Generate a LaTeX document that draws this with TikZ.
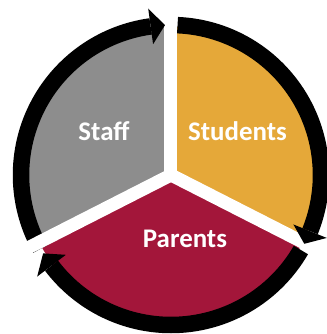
\documentclass[tikz,border=0pt]{standalone}
\usepackage{fontspec}
\setmainfont{Carlito}
\definecolor{staffgray}{RGB}{141,141,141}
\definecolor{studentgold}{RGB}{229,168,57}
\definecolor{parentred}{RGB}{163,22,58}
\begin{document}
\begin{tikzpicture}[x=1bp,y=1bp,
  gapline/.style={draw=white,line width=13bp},
  ring/.style={draw=black,line width=16.5bp},
  head/.style={fill=black},
  label/.style={text=white,font=\bfseries\fontsize{27}{31}\selectfont,inner sep=0pt,anchor=base}]
\useasboundingbox (-171,-159) rectangle (156,175);
\coordinate (c) at (0,0);
% three sectors
\fill[staffgray]   (c) -- (90:148)  arc[start angle=90,  end angle=207, radius=148] -- cycle;
\fill[parentred]   (c) -- (207:148) arc[start angle=207, end angle=333, radius=148] -- cycle;
\fill[studentgold] (c) -- (333:148) arc[start angle=333, end angle=450, radius=148] -- cycle;
% circular arrows, shafts
\draw[ring] (209.5:150) arc[start angle=209.5, end angle=97.8,  radius=150];
\draw[ring] (87.5:150)  arc[start angle=87.5,  end angle=-22,   radius=150];
\draw[ring] (-30:150)   arc[start angle=-30,   end angle=-142.8, radius=150];
% white separators
\draw[gapline] (c) -- (90:175);
\draw[gapline] (c) -- (207:175);
\draw[gapline] (c) -- (333:175);
% arrow heads
\fill[head] (97.8:132) -- (92.3:150) -- (97.8:168) -- cycle;
\fill[head] (-22:132) -- (-27.3:150) -- (-22:168) -- cycle;
\fill[head] (-142.8:132) -- (-148.5:150) -- (-142.8:168) -- cycle;
% labels
\node[label] (staff)    at (-67,35)  {Staff};
\node[label] (students) at (66.5,35) {Students};
\node[label] (parents)  at (14,-72)  {Parents};
\end{tikzpicture}
\end{document}
